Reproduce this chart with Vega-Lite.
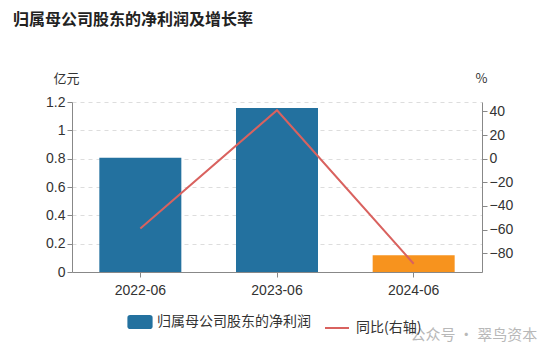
{
  "$schema": "https://vega.github.io/schema/vega-lite/v6.json",
  "width": 410,
  "height": 170,
  "autosize": {"type": "none"},
  "padding": {"left": 72, "top": 102, "right": 68, "bottom": 84},
  "background": "white",
  "title": {
    "text": "归属母公司股东的净利润及增长率",
    "anchor": "start",
    "frame": "group",
    "dx": -59,
    "offset": 0,
    "dy": -44,
    "font": "Noto Sans CJK SC",
    "fontSize": 16,
    "fontWeight": "bold",
    "color": "#222222"
  },
  "config": {
    "font": "Noto Sans CJK SC",
    "view": {"stroke": null},
    "axis": {
      "labelFont": "Liberation Sans",
      "labelFontSize": 14,
      "labelColor": "#333333",
      "domainColor": "#888888",
      "tickColor": "#888888",
      "tickSize": 5,
      "titleFont": "Noto Sans CJK SC",
      "titleFontWeight": "normal",
      "titleColor": "#333333"
    }
  },
  "data": {
    "values": [
      {"period": "2022-06", "profit": 0.807, "yoy": -59.2},
      {"period": "2023-06", "profit": 1.157, "yoy": 41},
      {"period": "2024-06", "profit": 0.118, "yoy": -89}
    ]
  },
  "encoding": {
    "x": {
      "field": "period",
      "type": "ordinal",
      "scale": {"paddingInner": 0.4, "paddingOuter": 0.2},
      "axis": {
        "labelAngle": 0,
        "labelPadding": 6,
        "title": "公众号 · 翠鸟资本",
        "titleX": 338,
        "titleY": 62,
        "titleAlign": "left",
        "titleBaseline": "middle",
        "titleAnchor": null,
        "titleColor": "#b8b8b8",
        "titleFontSize": 15
      }
    }
  },
  "layer": [
    {
      "mark": {"type": "bar"},
      "encoding": {
        "y": {
          "field": "profit",
          "type": "quantitative",
          "scale": {"domain": [0, 1.2]},
          "axis": {
            "values": [0, 0.2, 0.4, 0.6, 0.8, 1, 1.2],
            "format": "~g",
            "labelPadding": 2,
            "grid": true,
            "gridDash": [4, 4],
            "gridColor": "#dddddd",
            "title": "亿元",
            "titleAngle": 0,
            "titleX": -6,
            "titleY": -24,
            "titleAlign": "center",
            "titleBaseline": "middle",
            "titleFontSize": 13
          }
        },
        "fill": {
          "condition": {"test": "datum.period === '2024-06'", "value": "#f7931e"},
          "datum": "归属母公司股东的净利润",
          "scale": {"range": ["#23719f"]},
          "legend": {
            "orient": "none",
            "legendX": 61,
            "legendY": 213,
            "title": null,
            "symbolType": "M-1.4,-1H1.4Q1.8,-1,1.8,-0.6V0.6Q1.8,1,1.4,1H-1.4Q-1.8,1,-1.8,0.6V-0.6Q-1.8,-1,-1.4,-1Z",
            "symbolSize": 196,
            "symbolStrokeWidth": 0,
            "labelFont": "Noto Sans CJK SC",
            "labelFontSize": 14,
            "labelColor": "#333333",
            "labelOffset": 10
          }
        }
      }
    },
    {
      "mark": {"type": "line", "strokeWidth": 2},
      "encoding": {
        "y": {
          "field": "yoy",
          "type": "quantitative",
          "scale": {"domain": [-96, 48]},
          "axis": {
            "orient": "right",
            "values": [-80, -60, -40, -20, 0, 20, 40],
            "grid": false,
            "labelPadding": 2,
            "title": "%",
            "titleAngle": 0,
            "titleX": -1,
            "titleY": -24,
            "titleAlign": "center",
            "titleBaseline": "middle",
            "titleFontSize": 13
          }
        },
        "stroke": {
          "datum": "同比(右轴)",
          "scale": {"range": ["#d9625f"]},
          "legend": {
            "orient": "none",
            "legendX": 252,
            "legendY": 213,
            "title": null,
            "symbolType": "stroke",
            "symbolSize": 576,
            "symbolStrokeWidth": 2,
            "labelFont": "Noto Sans CJK SC",
            "labelFontSize": 14,
            "labelColor": "#333333",
            "labelOffset": 6
          }
        }
      }
    }
  ],
  "resolve": {"scale": {"y": "independent", "fill": "independent", "stroke": "independent"}}
}
